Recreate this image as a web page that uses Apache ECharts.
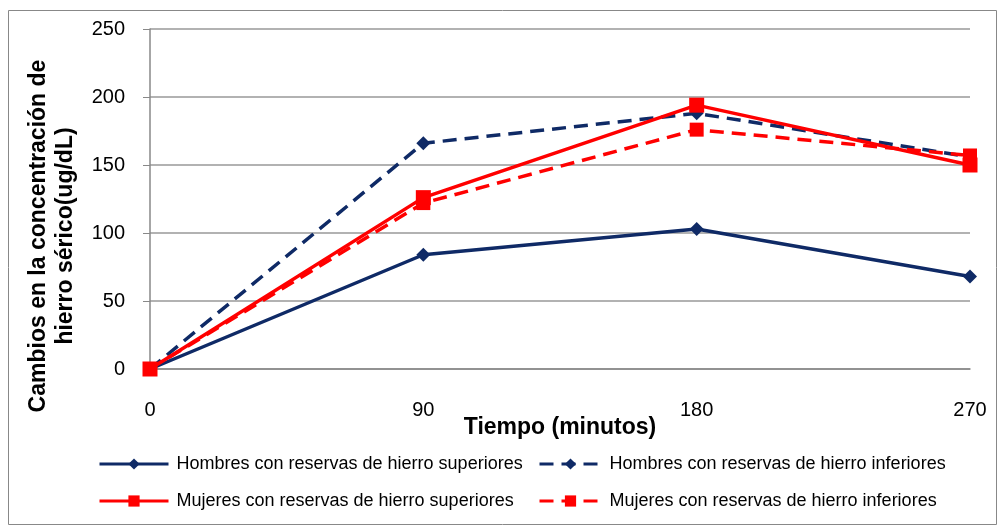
<!DOCTYPE html>
<html><head><meta charset="utf-8">
<script src="https://cdn.jsdelivr.net/npm/echarts@6/dist/echarts.min.js"></script>
<style>html,body{margin:0;padding:0;background:#fff}#c{width:999px;height:527px}</style>
</head><body><div id="c"></div>
<script>
const times = [0, 90, 180, 270];
const hombresSup = [0, 84, 103, 68];
const hombresInf = [0, 166, 188, 156];
const mujeresSup = [0, 126, 194, 150];
const mujeresInf = [0, 122, 176, 157];
const names = [
  'Hombres con reservas de hierro superiores',
  'Hombres con reservas de hierro inferiores',
  'Mujeres con reservas de hierro superiores',
  'Mujeres con reservas de hierro inferiores'
];
const navy = '#0f2a66', red = '#ff0000';
const pairs = a => times.map((t, i) => [t, a[i]]);
function s(name, data, color, dashed, symbol, size) {
  return { name, type: 'line', data: pairs(data), symbol, symbolSize: size,
    lineStyle: { color, width: 3.5, type: dashed ? [14, 8] : 'solid' },
    itemStyle: { color }, z: dashed ? 2 : 3 };
}
const legFont = { fontFamily: 'Liberation Sans', fontSize: 18, color: '#000', padding: [0, 0, 0, 3] };
function leg(name, left, top, w) {
  return { data: [name], left, top, itemWidth: w, itemHeight: 14, itemGap: 8, textStyle: legFont,
    lineStyle: { width: 3 } };
}
const chart = echarts.init(document.getElementById('c'));
chart.setOption({
  animation: false,
  grid: { left: 150, right: 29, top: 29, bottom: 158 },
  legend: [leg(names[0], 93, 450, 69), leg(names[1], 533, 450, 62), leg(names[2], 93, 487, 69), leg(names[3], 533, 487, 62)],
  xAxis: { type: 'value', min: 0, max: 270, interval: 90,
    axisLine: { lineStyle: { color: '#888', width: 1.5 } },
    axisTick: { show: false }, splitLine: { show: false },
    axisLabel: { fontFamily: 'Liberation Sans', fontSize: 20, color: '#000', margin: 31 },
    name: 'Tiempo (minutos)', nameLocation: 'middle', nameGap: 47, nameMoveOverlap: false,
    nameTextStyle: { fontFamily: 'Liberation Sans', fontSize: 23, fontWeight: 'bold', color: '#000' } },
  yAxis: { type: 'value', min: 0, max: 250, interval: 50,
    axisLine: { show: true, lineStyle: { color: '#888', width: 1.5 } },
    axisTick: { show: true, length: 7, lineStyle: { color: '#888' } },
    splitLine: { lineStyle: { color: '#999', width: 1.5 } },
    axisLabel: { fontFamily: 'Liberation Sans', fontSize: 20, color: '#000', margin: 25 } },
  graphic: [
    { type: 'rect', shape: { x: 8.5, y: 10.5, width: 988, height: 514 }, style: { fill: 'none', stroke: '#888', lineWidth: 1 }, silent: true },
    { type: 'text', x: 52, y: 236, rotation: Math.PI / 2,
      style: { text: 'Cambios en la concentración de\nhierro sérico(ug/dL)', align: 'center', verticalAlign: 'middle',
        font: 'bold 23px "Liberation Sans"', fill: '#000', lineHeight: 27 } }
  ],
  series: [
    s(names[1], hombresInf, navy, true, 'diamond', 14),
    s(names[3], mujeresInf, red, true, 'rect', 14),
    s(names[0], hombresSup, navy, false, 'diamond', 14),
    s(names[2], mujeresSup, red, false, 'rect', 15)
  ]
});
</script></body></html>
